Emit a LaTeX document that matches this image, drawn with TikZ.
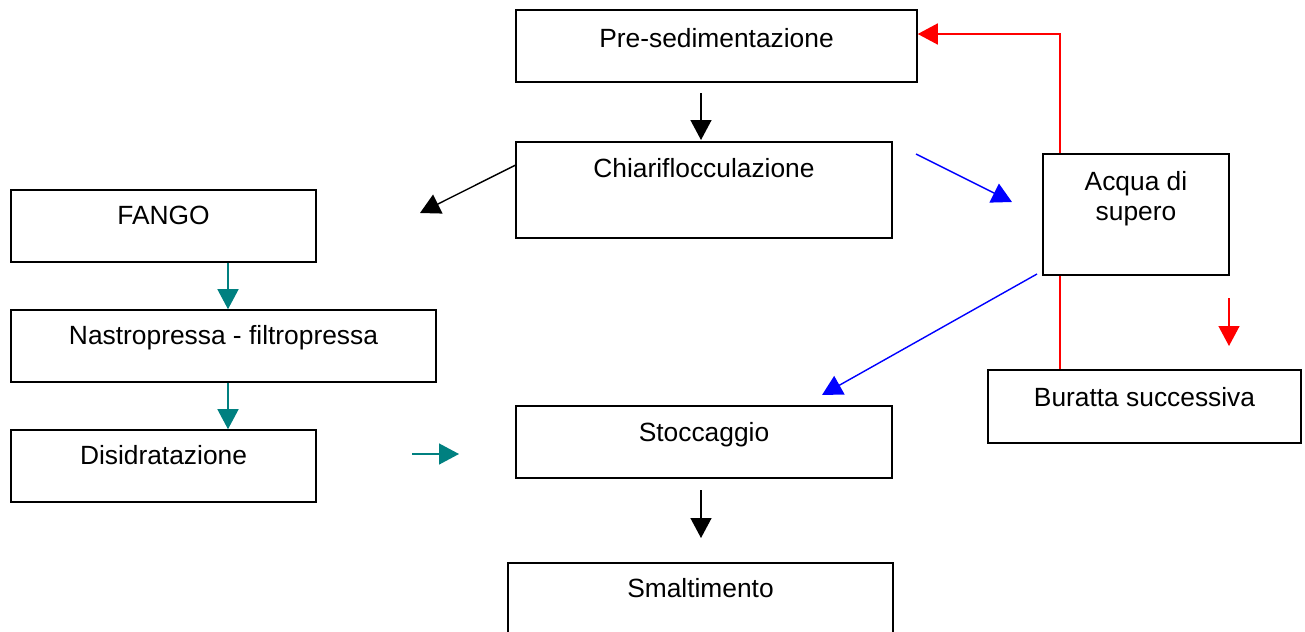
\documentclass[tikz,border=0pt]{standalone}
\usepackage{fontspec}
\setmainfont{Liberation Sans}
\usetikzlibrary{positioning,arrows.meta}

\definecolor{tealarr}{RGB}{0,128,128}

\tikzset{
  box/.style={draw, rectangle, line width=0.9pt, inner sep=0pt},
  txt/.style={inner sep=0pt, align=center, font=\fontsize{15}{17}\selectfont},
  flow/.style={line width=0.8pt, -{Triangle[length=0.4cm, width=0.42cm]}}
}

\begin{document}
\begin{tikzpicture}[x=0.02cm, y=-0.02cm]
        \useasboundingbox (0,0) rectangle (1305,632);

        % boxes
        \node[box, minimum width=8.02cm, minimum height=1.44cm] (pre) at (716.5,46) {};
        \node[box, minimum width=7.52cm, minimum height=1.92cm] (chiari) at (704,190) {};
        \node[box, minimum width=6.1cm, minimum height=1.44cm] (fango) at (163.5,226) {};
        \node[box, minimum width=8.5cm, minimum height=1.44cm] (nastro) at (223.5,346) {};
        \node[box, minimum width=6.1cm, minimum height=1.44cm] (disid) at (163.5,466) {};
        \node[box, minimum width=7.52cm, minimum height=1.44cm] (stocc) at (704,442) {};
        \node[box, minimum width=7.7cm, minimum height=1.92cm] (smalt) at (700.5,611) {};
        \node[box, minimum width=3.72cm, minimum height=2.42cm] (acqua) at (1136,214.5) {};
        \node[box, minimum width=6.26cm, minimum height=1.46cm] (buratta) at (1144.5,406.5) {};

        % texts
        \node[txt, below=0.38cm of pre.north] (pre-t) {Pre-sedimentazione};
        \node[txt, below=0.34cm of chiari.north] (chiari-t) {Chiariflocculazione};
        \node[txt, below=0.34cm of fango.north] (fango-t) {FANGO};
        \node[txt, below=0.32cm of nastro.north] (nastro-t) {Nastropressa - filtropressa};
        \node[txt, below=0.32cm of disid.north] (disid-t) {Disidratazione};
        \node[txt, below=0.34cm of stocc.north] (stocc-t) {Stoccaggio};
        \node[txt, below=0.32cm of smalt.north] (smalt-t) {Smaltimento};
        \node[txt, below=0.36cm of acqua.north] (acqua-t) {Acqua di\\supero};
        \node[txt, below=0.36cm of buratta.north] (buratta-t) {Buratta successiva};

        % free arrow ends
        \coordinate (col) at (228,0);
        \coordinate (ret) at (1060,34);
        \coordinate (a1s) at (701,93);
        \coordinate (a1e) at (701,140);
        \coordinate (a2e) at (420,213);
        \coordinate (b1s) at (916,154);
        \coordinate (b1e) at (1012,202);
        \coordinate (b2s) at (1037,274);
        \coordinate (b2e) at (822,395);
        \coordinate (k3s) at (412,454);
        \coordinate (k3e) at (459,454);
        \coordinate (a3s) at (701,490);
        \coordinate (a3e) at (701,538);
        \coordinate (r2s) at (1229,298);
        \coordinate (r2e) at (1229,346);

        % black arrows
        \draw[flow] (a1s) -- (a1e);
        \draw[flow] ([yshift=-0.48cm]chiari.north west) -- (a2e);
        \draw[flow] (a3s) -- (a3e);

        % blue arrows
        \draw[flow, blue] (b1s) -- (b1e);
        \draw[flow, blue] (b2s) -- (b2e);

        % teal arrows
        \draw[flow, tealarr] (fango.south -| col) -- (nastro.north -| col);
        \draw[flow, tealarr] (nastro.south -| col) -- (disid.north -| col);
        \draw[flow, tealarr] (k3s) -- (k3e);

        % red lines
        \draw[flow, red] (acqua.north -| ret) |- (pre.east |- ret);
        \draw[line width=0.8pt, red] (acqua.south -| ret) -- (buratta.north -| ret);
        \draw[flow, red] (r2s) -- (r2e);
    \end{tikzpicture}
\end{document}
